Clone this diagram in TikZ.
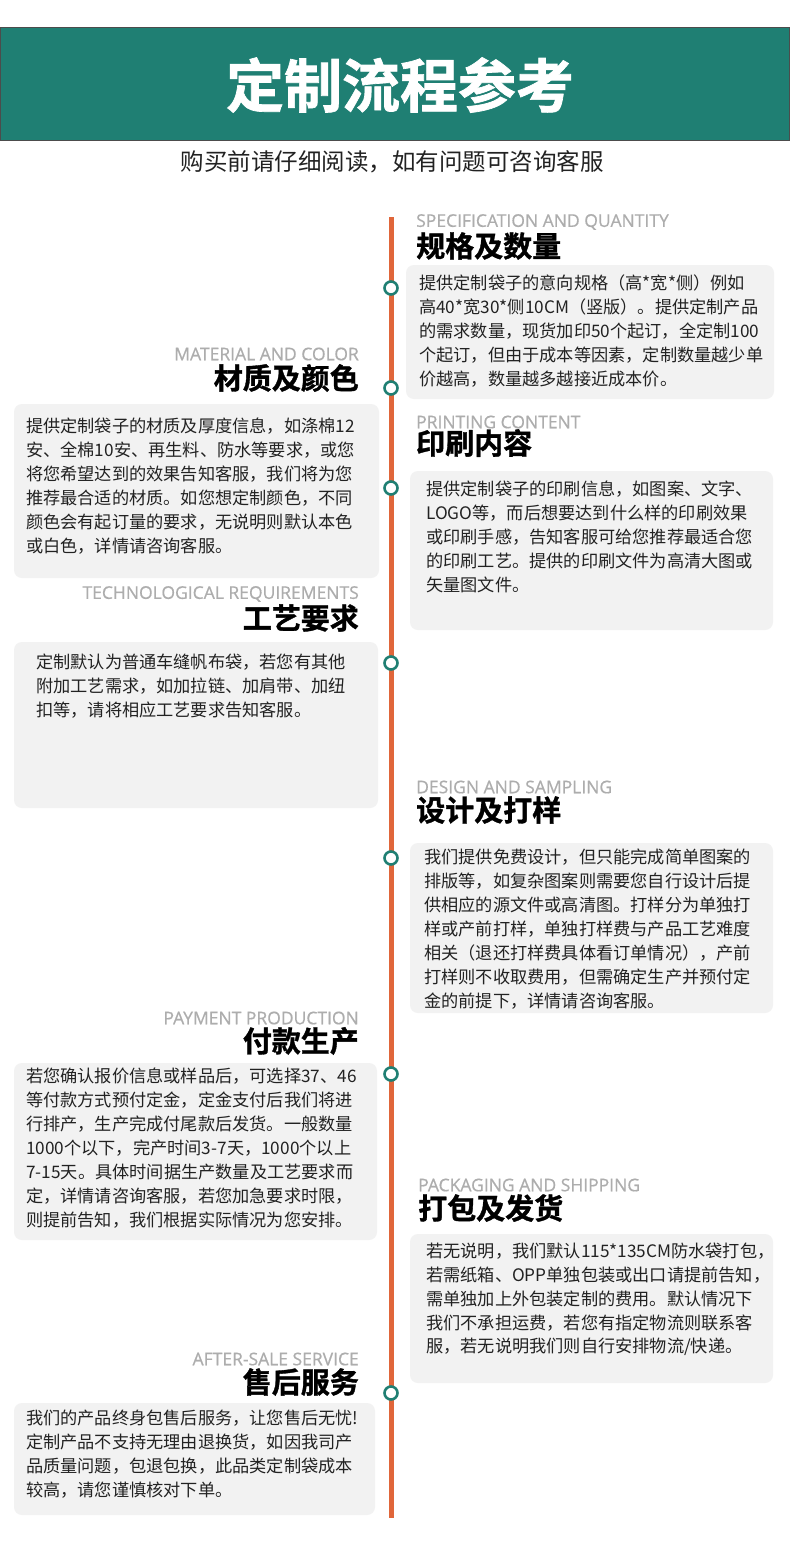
\documentclass[tikz,border=0pt]{standalone}
\usepackage{fontspec}
\setmainfont{Open Sans}
\newfontfamily\cjk{Noto Sans CJK SC}
\newfontfamily\cjkb[FakeBold=1.2]{Noto Sans CJK SC Bold}
\newfontfamily\enb[FakeBold=0.6]{Open Sans}
\begin{document}
\begin{tikzpicture}[x=1pt,y=-1pt,
  box/.style={fill=boxgray,rounded corners=8pt},
  en/.style={text=engray,font=\enb\fontsize{17.5}{17.5}\selectfont,inner sep=0pt},
  ttl/.style={text=black,font=\cjkb\fontsize{29}{29}\selectfont,inner sep=0pt},
  ln/.style={anchor=west,inner sep=0pt,text=textc,font=\cjk\fontsize{17.2}{17.2}\selectfont},
  dot/.style={circle,draw=tealc,line width=2.6pt,fill=white,minimum size=13pt,inner sep=0pt}]
\definecolor{tealc}{HTML}{1F7F73}
\definecolor{orangec}{HTML}{E0663A}
\definecolor{boxgray}{HTML}{F2F2F2}
\definecolor{engray}{HTML}{ADADAD}
\definecolor{textc}{HTML}{222222}
\useasboundingbox (0,0) rectangle (790,1547);
\fill[white] (0,0) rectangle (790,1547);
% header
\draw[fill=tealc,draw=black!70,line width=0.8pt] (0.5,27) rectangle (789.5,140);
\node[text=white,font=\cjkb\fontsize{58}{58}\selectfont] (head) at (400,85) {定制流程参考};
\node[text=textc,font=\cjk\fontsize{23.5}{23.5}\selectfont] (sub) at (392,162) {购买前请仔细阅读，如有问题可咨询客服};
% timeline
\coordinate (top) at (391,217);
\coordinate (bot) at (391,1518);
\draw[orangec,line width=5pt] (top) -- (bot);
% boxes
\fill[box] (406,265) rectangle (774,399);
\fill[box] (410,471) rectangle (773,630);
\fill[box] (14,404) rectangle (379,578);
\fill[box] (14,642) rectangle (378,808);
\fill[box] (410,843) rectangle (773,1013);
\fill[box] (14,1063) rectangle (377,1240);
\fill[box] (410,1234) rectangle (773,1383);
\fill[box] (14,1403) rectangle (375,1515);
% dots
\foreach \y/\n in {288/d1,388/d2,488/d3,663/d4,858/d5,1074/d6,1393/d7}
  \node[dot] (\n) at (391,\y) {};
% section 1
\node[en,anchor=west] (e1) at (416,222) {SPECIFICATION AND QUANTITY};
\node[ttl,anchor=west] (t1) at (416,246) {规格及数量};
\node[ln] at (419,283) {提供定制袋子的意向规格（高*宽*侧）例如};
\node[ln] at (419,307) {高40*宽30*侧10CM（竖版）。提供定制产品};
\node[ln] at (419,331) {的需求数量，现货加印50个起订，全定制100};
\node[ln] at (419,355) {个起订，但由于成本等因素，定制数量越少单};
\node[ln] at (419,379) {价越高，数量越多越接近成本价。};
% section 2 material
\node[en,anchor=east] (e2) at (359,354) {MATERIAL AND COLOR};
\node[ttl,anchor=east] (t2) at (359,378) {材质及颜色};
\node[ln] at (26,426) {提供定制袋子的材质及厚度信息，如涤棉12};
\node[ln] at (26,450) {安、全棉10安、再生料、防水等要求，或您};
\node[ln] at (26,474) {将您希望达到的效果告知客服，我们将为您};
\node[ln] at (26,498) {推荐最合适的材质。如您想定制颜色，不同};
\node[ln] at (26,522) {颜色会有起订量的要求，无说明则默认本色};
\node[ln] at (26,546) {或白色，详情请咨询客服。};
% section 3 printing
\node[en,anchor=west] (e3) at (416,422) {PRINTING CONTENT};
\node[ttl,anchor=west] (t3) at (416,443) {印刷内容};
\node[ln] at (426,489) {提供定制袋子的印刷信息，如图案、文字、};
\node[ln] at (426,513) {LOGO等，而后想要达到什么样的印刷效果};
\node[ln] at (426,537) {或印刷手感，告知客服可给您推荐最适合您};
\node[ln] at (426,561) {的印刷工艺。提供的印刷文件为高清大图或};
\node[ln] at (426,585) {矢量图文件。};
% section 4 tech
\node[en,anchor=east] (e4) at (359,594) {TECHNOLOGICAL REQUIREMENTS};
\node[ttl,anchor=east] (t4) at (359,618) {工艺要求};
\node[ln] at (36,662) {定制默认为普通车缝帆布袋，若您有其他};
\node[ln] at (36,686) {附加工艺需求，如加拉链、加肩带、加纽};
\node[ln] at (36,710) {扣等，请将相应工艺要求告知客服。};
% section 5 design
\node[en,anchor=west] (e5) at (416,787) {DESIGN AND SAMPLING};
\node[ttl,anchor=west] (t5) at (416,810) {设计及打样};
\node[ln] at (424,857) {我们提供免费设计，但只能完成简单图案的};
\node[ln] at (424,881) {排版等，如复杂图案则需要您自行设计后提};
\node[ln] at (424,905) {供相应的源文件或高清图。打样分为单独打};
\node[ln] at (424,929) {样或产前打样，单独打样费与产品工艺难度};
\node[ln] at (424,953) {相关（退还打样费具体看订单情况），产前};
\node[ln] at (424,977) {打样则不收取费用，但需确定生产并预付定};
\node[ln] at (424,1001) {金的前提下，详情请咨询客服。};
% section 6 payment
\node[en,anchor=east] (e6) at (359,1018) {PAYMENT PRODUCTION};
\node[ttl,anchor=east] (t6) at (359,1041) {付款生产};
\node[ln] at (26,1076) {若您确认报价信息或样品后，可选择37、46};
\node[ln] at (26,1100) {等付款方式预付定金，定金支付后我们将进};
\node[ln] at (26,1124) {行排产，生产完成付尾款后发货。一般数量};
\node[ln] at (26,1148) {1000个以下，完产时间3-7天，1000个以上};
\node[ln] at (26,1172) {7-15天。具体时间据生产数量及工艺要求而};
\node[ln] at (26,1196) {定，详情请咨询客服，若您加急要求时限，};
\node[ln] at (26,1220) {则提前告知，我们根据实际情况为您安排。};
% section 7 packaging
\node[en,anchor=west] (e7) at (418,1185) {PACKAGING AND SHIPPING};
\node[ttl,anchor=west] (t7) at (418,1208) {打包及发货};
\node[ln] at (426,1251) {若无说明，我们默认115*135CM防水袋打包，};
\node[ln] at (426,1275) {若需纸箱、OPP单独包装或出口请提前告知，};
\node[ln] at (426,1299) {需单独加上外包装定制的费用。默认情况下};
\node[ln] at (426,1323) {我们不承担运费，若您有指定物流则联系客};
\node[ln] at (426,1347) {服，若无说明我们则自行安排物流/快递。};
% section 8 after-sale
\node[en,anchor=east] (e8) at (359,1359) {AFTER-SALE SERVICE};
\node[ttl,anchor=east] (t8) at (359,1382) {售后服务};
\node[ln] at (26,1418) {我们的产品终身包售后服务，让您售后无忧!};
\node[ln] at (26,1442) {定制产品不支持无理由退换货，如因我司产};
\node[ln] at (26,1466) {品质量问题，包退包换，此品类定制袋成本};
\node[ln] at (26,1490) {较高，请您谨慎核对下单。};
\end{tikzpicture}
\end{document}
